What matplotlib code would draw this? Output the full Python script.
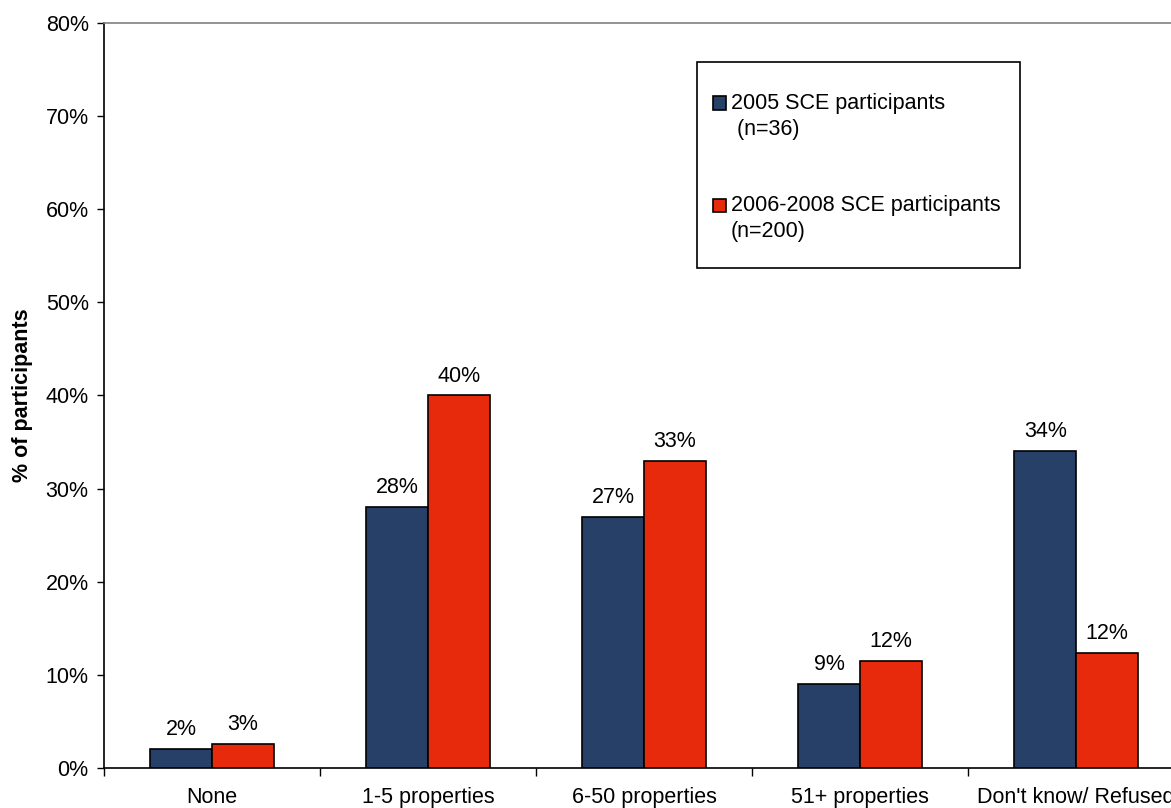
import matplotlib

matplotlib.use("Agg")
import matplotlib.pyplot as plt
import numpy as np
from matplotlib.patches import Rectangle

categories = ["None", "1-5 properties", "6-50 properties", "51+ properties", "Don't know/ Refused"]
series_labels = ["2005 SCE participants\n (n=36)", "2006-2008 SCE participants\n(n=200)"]
sce_2005 = [2.0, 28.0, 27.0, 9.0, 34.0]
sce_2006_2008 = [2.6, 40.0, 33.0, 11.5, 12.4]
y_ticks = [0, 10, 20, 30, 40, 50, 60, 70, 80]

NAVY = "#264068"
RED = "#E82A0C"
FS = 15.5

plt.rcParams["font.family"] = ["Liberation Sans", "DejaVu Sans"]
plt.rcParams["font.size"] = FS

W, H = 1171, 808
fig = plt.figure(figsize=(W / 100, H / 100), dpi=100)


def px(x, y):
    # pixel position (from top-left) to figure fraction
    return x / W, 1 - y / H


ax = fig.add_axes([104 / W, 40 / H, 1080 / W, 745 / H])

x = np.arange(len(categories))
bw = 0.285
series = [sce_2005, sce_2006_2008]
colors = [NAVY, RED]
for i, (vals, col) in enumerate(zip(series, colors)):
    pos = x + (i - 0.5) * bw
    ax.bar(pos, vals, width=bw, color=col, edgecolor="black", linewidth=1.2, zorder=3)
    for xp, v in zip(pos, vals):
        ax.annotate(f"{round(v)}%", (xp, v), xytext=(0, 10), textcoords="offset points",
                    ha="center", va="baseline", fontsize=FS)

ax.set_xlim(-0.5, len(categories) - 0.5)
ax.set_ylim(0, 80)
ax.set_yticks(y_ticks)
ax.set_yticklabels([f"{t}%" for t in y_ticks])
ax.set_xticks(x)
ax.set_xticklabels(categories)
ax.set_xticks(np.arange(-0.5, len(categories) - 0.5, 1.0), minor=True)
ax.tick_params(axis="x", which="major", length=0, pad=14)
ax.tick_params(axis="x", which="minor", length=6, width=1, direction="out")
ax.tick_params(axis="y", length=5, width=1, pad=6, direction="out")

for side in ["left", "bottom"]:
    ax.spines[side].set_color("black")
    ax.spines[side].set_linewidth(1.2)
ax.spines["top"].set_color("#808080")
ax.spines["top"].set_linewidth(1.2)
ax.spines["right"].set_color("#808080")

ax.set_ylabel("% of participants", fontweight="bold", fontsize=FS)
ax.yaxis.set_label_coords(-0.066, 0.5)

# legend box drawn by hand so each marker sits on the first text line
x0, y0 = px(697, 268)
x1, y1 = px(1020, 62)
fig.patches.append(Rectangle((x0, y0), x1 - x0, y1 - y0, transform=fig.transFigure,
                             facecolor="white", edgecolor="black", linewidth=1.2, zorder=5))
for label, col, ytop in zip(series_labels, colors, [103, 205]):
    sx, sy = px(713, ytop + 6.5)
    fig.patches.append(Rectangle((sx, sy), 13 / W, 13 / H, transform=fig.transFigure,
                                 facecolor=col, edgecolor="black", linewidth=1.2, zorder=6))
    for k, line in enumerate(label.split("\n")):
        tx, ty = px(731, ytop + 27 * k)
        fig.text(tx, ty, line, ha="left", va="center", fontsize=FS, zorder=7)

fig.savefig("out.png", dpi=100)
